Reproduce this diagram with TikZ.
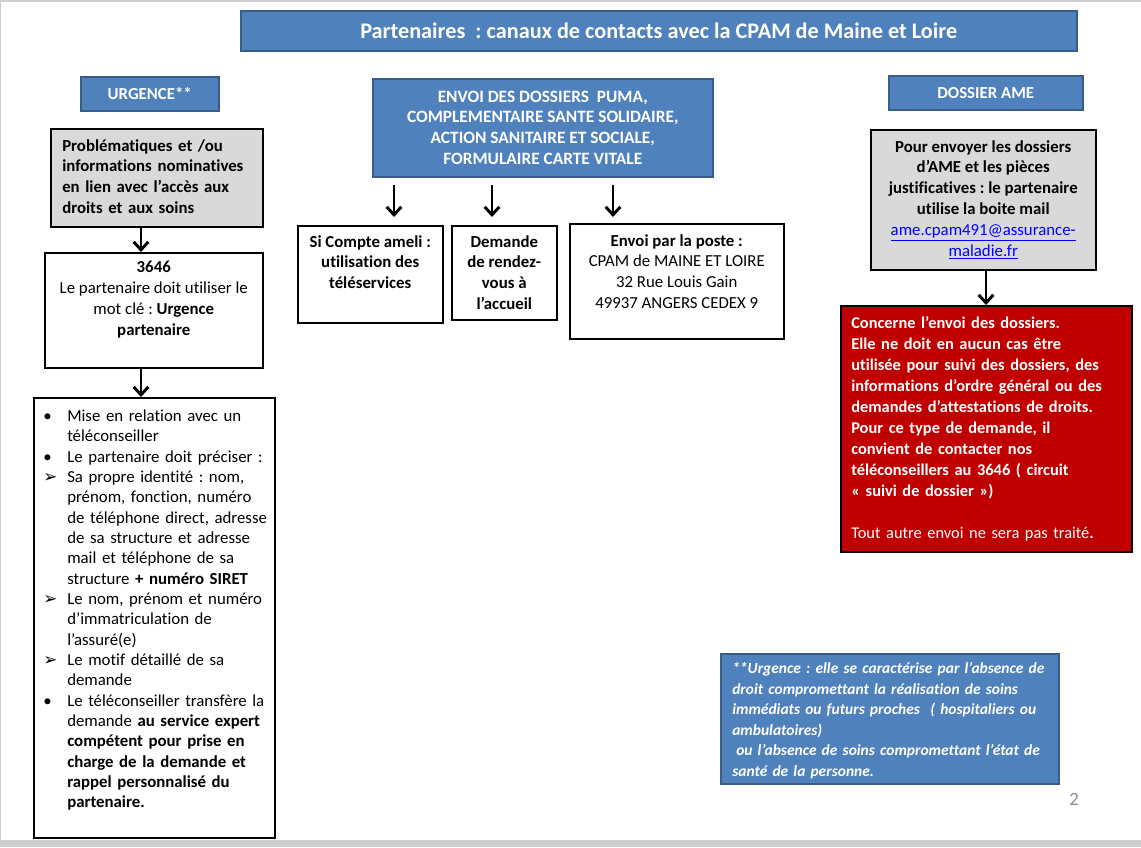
\documentclass[tikz,border=0pt]{standalone}
\usepackage{fontspec}
\setmainfont{Carlito}[Ligatures=NoCommon]
\newfontfamily\arrowfont{DejaVu Sans}
\usepackage{enumitem}
\usepackage{xcolor}
\usetikzlibrary{arrows.meta,positioning}
\newdimen\pxu
\pxu=0.75pt
\definecolor{boxblue}{HTML}{4F81BD}
\definecolor{blueedge}{HTML}{385D8A}
\definecolor{boxgrey}{HTML}{D9D9D9}
\definecolor{boxred}{HTML}{C00000}
\definecolor{linkblue}{HTML}{0000FF}
\definecolor{pagegrey}{HTML}{8C8C8C}
\definecolor{bandgrey}{HTML}{CFCFCF}
\tikzset{
  box/.style={draw=black,line width=1.5\pxu,inner sep=0pt,anchor=north west},
  bluebox/.style={box,draw=blueedge,fill=boxblue,text=white,font=\bfseries,align=center},
  greybox/.style={box,fill=boxgrey},
  whitebox/.style={box,fill=white},
  redbox/.style={box,fill=boxred},
  txt/.style={inner sep=0pt},
  down/.style={-{Straight Barb[length=6pt,width=11pt]},line width=2.2pt}
}
\begin{document}
\frenchspacing
\fontsize{12.6}{15.6}\selectfont
\begin{tikzpicture}[x=0.75pt,y=-0.75pt]
\useasboundingbox (0,0) rectangle (1141,847);
\fill[white] (0,0) rectangle (1141,847);
\fill[bandgrey] (0,0) rectangle (1141,2);
\fill[bandgrey] (0,840) rectangle (1141,847);
\draw[bandgrey] (0.5,0) -- (0.5,840);
% headers
\node[bluebox,font=\fontsize{16.7}{20}\selectfont\bfseries,minimum width=836\pxu,minimum height=40\pxu] (title) at (240,10) {Partenaires~ : canaux de contacts avec la CPAM de Maine et Loire};
\node[bluebox,minimum width=138\pxu,minimum height=34\pxu] (urg) at (80,76) {URGENCE**};
\node[bluebox,font=\fontsize{13}{15.6}\selectfont\bfseries,minimum width=340\pxu,minimum height=98\pxu] (envoi) at (372,78) {ENVOI DES DOSSIERS~ PUMA,\\COMPLEMENTAIRE SANTE SOLIDAIRE,\\ACTION SANITAIRE ET SOCIALE,\\FORMULAIRE CARTE VITALE};
\node[bluebox,minimum width=194\pxu,minimum height=34\pxu] (ame) at (888,75) {DOSSIER AME};
% left column
\node[greybox,minimum width=212\pxu,minimum height=98\pxu] (prob) at (50,128) {};
\node[txt,font=\bfseries,align=left,text width=200\pxu,anchor=north west,below right=11\pxu and 12\pxu of prob.north west] (probtxt) {Problématiques et /ou\\informations nominatives\\en lien avec l’accès aux\\droits et aux soins};
\node[whitebox,minimum width=218\pxu,minimum height=115\pxu] (num) at (44,252) {};
\node[txt,align=center,below=9\pxu of num.north] (numtxt) {\textbf{3646}\\Le partenaire doit utiliser le\\mot clé : \textbf{Urgence}\\\textbf{partenaire}};
\node[whitebox,minimum width=241\pxu,minimum height=440\pxu] (list) at (33,397) {};
\node[txt,align=left,text width=228\pxu,anchor=north west,below right=4\pxu and 10\pxu of list.north west] (listtxt) {\fontsize{12.6}{15.25}\selectfont
\begin{itemize}[leftmargin=24\pxu,labelwidth=24\pxu,labelsep=0pt,align=left,itemsep=0pt,topsep=0pt,parsep=0pt,partopsep=0pt,label=•]
\item Mise en relation avec un\\téléconseiller
\item Le partenaire doit préciser :
\item[\arrowfont ➢] Sa propre identité : nom,\\prénom, fonction, numéro\\de téléphone direct, adresse\\de sa structure et adresse\\mail et téléphone de sa\\structure \textbf{+ numéro SIRET}
\item[\arrowfont ➢] Le nom, prénom et numéro\\d’immatriculation de\\l’assuré(e)
\item[\arrowfont ➢] Le motif détaillé de sa\\demande
\item Le téléconseiller transfère la\\demande \textbf{au service expert}\\\textbf{compétent pour prise en}\\\textbf{charge de la demande et}\\\textbf{rappel personnalisé du}\\\textbf{partenaire.}
\end{itemize}};
% middle column
\node[whitebox,minimum width=145\pxu,minimum height=97\pxu] (cpt) at (297,225) {};
\node[txt,font=\bfseries,align=center,below=10\pxu of cpt.north] (cpttxt) {Si Compte ameli :\\utilisation des\\téléservices};
\node[whitebox,minimum width=105\pxu,minimum height=94\pxu] (rdv) at (451,225) {};
\node[txt,font=\bfseries,align=center,below=10\pxu of rdv.north] (rdvtxt) {Demande\\de rendez-\\vous à\\l’accueil};
\node[whitebox,minimum width=214\pxu,minimum height=115\pxu] (poste) at (569,223) {};
\node[txt,align=center,below=11\pxu of poste.north] (postetxt) {\textbf{Envoi par la poste :}\\CPAM de MAINE ET LOIRE\\32 Rue Louis Gain\\49937 ANGERS CEDEX 9};
% right column
\node[greybox,minimum width=225\pxu,minimum height=140\pxu] (amegrey) at (870,129) {};
\node[txt,font=\bfseries,align=center,below=11\pxu of amegrey.north] (ametxt) {Pour envoyer les dossiers\\d’AME et les pièces\\justificatives : le partenaire\\utilise la boite mail\\{\mdseries\color{linkblue}\underline{ame.cpam491@assurance-}}\\{\mdseries\color{linkblue}\underline{maladie.fr}}};
\node[redbox,minimum width=291\pxu,minimum height=246\pxu] (red) at (840,305) {};
\node[txt,text=white,align=left,text width=280\pxu,anchor=north west,below right=11\pxu and 11\pxu of red.north west] (redtxt) {\fontsize{12.3}{15.8}\selectfont\textbf{Concerne l’envoi des dossiers.}\\\textbf{Elle ne doit en aucun cas être}\\\textbf{utilisée pour suivi des dossiers, des}\\\textbf{informations d’ordre général ou des}\\\textbf{demandes d’attestations de droits.}\\\textbf{Pour ce type de demande, il}\\\textbf{convient de contacter nos}\\\textbf{téléconseillers au 3646 ( circuit}\\\textbf{« suivi de dossier »)}\\[15.8pt]Tout autre envoi ne sera pas traité\textbf{.}};
\node[bluebox,minimum width=338\pxu,minimum height=130\pxu] (note) at (720,653) {};
\node[txt,text=white,font=\fontsize{11.6}{15.45}\selectfont\bfseries\itshape,align=left,text width=330\pxu,anchor=north west,below right=9\pxu and 12\pxu of note.north west] (notetxt) {**Urgence : elle se caractérise par l’absence de\\droit compromettant la réalisation de soins\\immédiats ou futurs proches~ ( hospitaliers ou\\ambulatoires)\\\hspace*{3pt}ou l’absence de soins compromettant l’état de\\santé de la personne.};
\node[txt,text=pagegrey,font=\fontsize{14}{16}\selectfont,anchor=north west] (pnum) at (1069,793) {2};
% arrows
\coordinate (uaxis) at (141,0);
\coordinate (aaxis) at (986,0);
\coordinate (c1) at (394,0);
\coordinate (c2) at (492,0);
\coordinate (c3) at (613,0);
\path[down]
(prob.south -| uaxis) edge (num.north -| uaxis)
(num.south -| uaxis) edge (list.north -| uaxis)
(amegrey.south -| aaxis) edge (red.north -| aaxis)
(envoi.south -| c1) edge[shorten <=7\pxu,shorten >=8\pxu] (cpt.north -| c1)
(envoi.south -| c2) edge[shorten <=7\pxu,shorten >=8\pxu] (rdv.north -| c2)
(envoi.south -| c3) edge[shorten <=7\pxu,shorten >=6\pxu] (poste.north -| c3);
\end{tikzpicture}
\end{document}
